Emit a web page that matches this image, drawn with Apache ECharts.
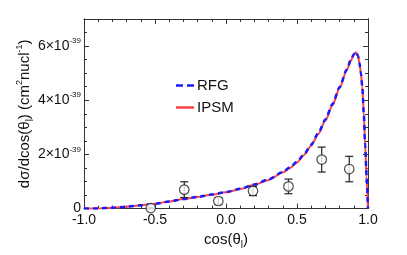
<!DOCTYPE html>
<html><head><meta charset="utf-8">
<script src="https://cdn.jsdelivr.net/npm/echarts@6/dist/echarts.min.js"></script>
<style>html,body{margin:0;padding:0;background:#fff}#c{width:407px;height:255px}</style>
</head><body><div id="c"></div>
<script>
// curve sampling positions (cos theta)
const curveX = [-1.0,-0.9,-0.8,-0.7,-0.6,-0.5,-0.4,-0.3,-0.2,-0.1,0.0,0.1,0.2,0.3,0.4,0.45,0.5,0.55,0.6,0.65,0.7,0.75,0.8,0.85,0.88,0.9,0.915,0.93,0.94,0.95,0.96,0.97,0.98,0.99,1.0];
// values in units of 1e-39 cm^2/nucleon
const rfgY  = [0,0.006,0.03,0.07,0.12,0.18,0.26,0.35,0.43,0.52,0.61,0.73,0.89,1.08,1.35,1.52,1.73,2.01,2.36,2.79,3.29,3.86,4.49,5.13,5.50,5.70,5.79,5.63,5.37,5.0,4.5,3.55,2.35,1.2,0];
const ipsmY = [0,0.005,0.03,0.07,0.12,0.18,0.26,0.35,0.43,0.51,0.60,0.72,0.88,1.06,1.33,1.50,1.70,1.98,2.32,2.75,3.25,3.82,4.45,5.10,5.47,5.68,5.77,5.63,5.37,5.0,4.5,3.55,2.35,1.2,0];
// measured points
const dataX   = [-0.53,-0.294,-0.054,0.19,0.44,0.674,0.868];
const dataY   = [0.02,0.70,0.28,0.65,0.82,1.81,1.46];
const dataErr = [0.03,0.29,0.13,0.17,0.27,0.46,0.47];
// tick labels
const yLabelValues = [0,2,4,6];
const xLabelValues = [-1.0,-0.5,0.0,0.5,1.0];

const chart = echarts.init(document.getElementById('c'), null, {renderer:'canvas'});
const font = 'Liberation Sans, Arial, Helvetica, sans-serif';
const axisCol = '#333';
const zip = (xs, ys) => xs.map((x,i)=>[x, ys[i]]);

const yLab = v => {
  if (!yLabelValues.includes(v)) return '';
  if (v === 0) return '{b|0}';
  return '{b|' + v + '×10}{s|-39}';
};
const yRich = {
  b:{fontSize:14, fontFamily:font, color:'#111', lineHeight:18},
  s:{fontSize:8, fontFamily:font, color:'#111', verticalAlign:'top', lineHeight:10}
};
const nameRich = {
  a:{fontSize:15, fontFamily:font, color:'#111', lineHeight:20},
  sup:{fontSize:9, fontFamily:font, color:'#111', verticalAlign:'top', lineHeight:11},
  sub:{fontSize:10, fontFamily:font, color:'#111', verticalAlign:'bottom', lineHeight:12}
};

const baseX = {
  type:'value', min:-1, max:1, interval:0.5,
  axisLine:{show:true, onZero:false, lineStyle:{color:axisCol, width:1}},
  axisTick:{show:true, inside:true, length:5, lineStyle:{color:axisCol}},
  minorTick:{show:true, splitNumber:5, length:3, lineStyle:{color:axisCol}},
  splitLine:{show:false}, minorSplitLine:{show:false}
};
const baseY = {
  type:'value', min:0, max:7,
  axisLine:{show:true, onZero:false, lineStyle:{color:axisCol, width:1}},
  splitLine:{show:false}
};

chart.setOption({
  animation:false,
  backgroundColor:'#fff',
  grid:{left:84, right:39, top:19, bottom:46, containLabel:false},
  legend:{
    orient:'vertical', left:171, top:73, itemWidth:18, itemHeight:2.5, itemGap:7,
    symbolKeepAspect:false,
    data:[
      {name:'RFG', icon:'path://M0,0h7v3h-7z M11,0h7v3h-7z'},
      {name:'IPSM', icon:'path://M0,0h18v3h-18z'}
    ],
    textStyle:{fontSize:15, fontFamily:font, color:'#111', lineHeight:15, padding:[0,0,0,-2]}
  },
  xAxis:[
    Object.assign({}, baseX, {
      position:'bottom',
      axisLabel:{show:true, fontSize:14, fontFamily:font, color:'#111', margin:5,
        formatter: v => xLabelValues.some(t=>Math.abs(t-v)<1e-9) ? v.toFixed(1) : ''},
      name:'{a|cos(θ}{sub|l}{a|)}', nameLocation:'middle', nameGap:20,
      nameTextStyle:{rich:nameRich}
    }),
    Object.assign({}, baseX, {position:'top', axisLabel:{show:false}})
  ],
  yAxis:[
    Object.assign({}, baseY, {position:'left', interval:0.5,
      axisTick:{show:true, inside:true, length:3, lineStyle:{color:axisCol}},
      axisLabel:{show:false},
      name:'{a|dσ/dcos(θ}{sub|l}{a|) (cm}{sup|2}{a|nucl}{sup|-1}{a|)}',
      nameLocation:'middle', nameGap:49, nameTextStyle:{rich:nameRich}
    }),
    Object.assign({}, baseY, {position:'left', interval:2,
      axisTick:{show:true, inside:true, length:5, lineStyle:{color:axisCol}},
      axisLabel:{show:true, margin:3, formatter:yLab, rich:yRich, showMaxLabel:false}
    }),
    Object.assign({}, baseY, {position:'right', interval:0.5,
      axisTick:{show:true, inside:true, length:3, lineStyle:{color:axisCol}},
      axisLabel:{show:false}
    }),
    Object.assign({}, baseY, {position:'right', interval:2,
      axisTick:{show:true, inside:true, length:5, lineStyle:{color:axisCol}},
      axisLabel:{show:false}
    })
  ],
  series:[
    {name:'IPSM', type:'line', data:zip(curveX, ipsmY), showSymbol:false, symbol:'none',
      smooth:0.25, smoothMonotone:'x', lineStyle:{color:'#ff4040', width:2}, itemStyle:{color:'#ff4040'}, z:3},
    {name:'RFG', type:'line', data:zip(curveX, rfgY), showSymbol:false, symbol:'none',
      smooth:0.25, smoothMonotone:'x', lineStyle:{color:'#1a1aff', width:2.5, type:[5,4]}, itemStyle:{color:'#1a1aff'}, z:4},
    {name:'err', type:'custom', data:dataX.map((x,i)=>[x, dataY[i], dataErr[i]]), z:5,
      renderItem:(params, api) => {
        const x = api.value(0), y = api.value(1), e = api.value(2);
        const t = api.coord([x, y+e]), b = api.coord([x, y-e]);
        const st = {stroke:'#222', lineWidth:1.2};
        const cw = 4;
        return {type:'group', children:[
          {type:'line', shape:{x1:t[0], y1:t[1], x2:b[0], y2:b[1]}, style:st},
          {type:'line', shape:{x1:t[0]-cw, y1:t[1], x2:t[0]+cw, y2:t[1]}, style:st},
          {type:'line', shape:{x1:b[0]-cw, y1:b[1], x2:b[0]+cw, y2:b[1]}, style:st}
        ]};
      }, clip:false},
    {name:'data', type:'scatter', data:zip(dataX, dataY), symbol:'circle', symbolSize:9.5, z:6, clip:false,
      itemStyle:{color:'#fff', borderColor:'#222', borderWidth:1.2}}
  ]
});
</script>
</body></html>
